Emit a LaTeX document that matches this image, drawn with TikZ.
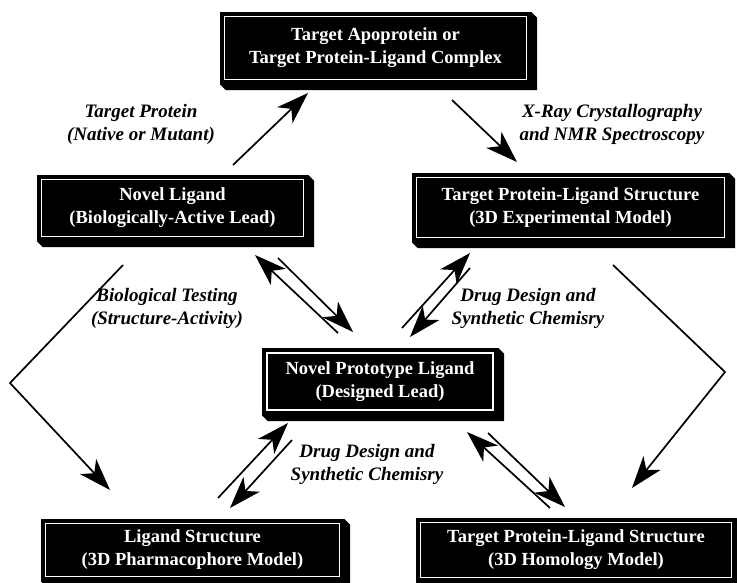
\documentclass[tikz,border=0pt]{standalone}
\usepackage{fontspec}
\setmainfont{Liberation Serif}
\usetikzlibrary{arrows.meta, calc}

\begin{document}
\begin{tikzpicture}[x=1pt, y=-1pt,
    slab/.style={rectangle, fill=black, text=white, align=center, inner sep=0pt, font=\bfseries\fontsize{18.5}{23}\selectfont,
        path picture={\draw[white, line width=1.3pt] ([shift={(4.5pt,-4.5pt)}]path picture bounding box.north west) rectangle ([shift={(-4.5pt,4.5pt)}]path picture bounding box.south east);}},
    keyslab/.style={slab,
        path picture={\draw[white, line width=2.6pt] ([shift={(5pt,-5pt)}]path picture bounding box.north west) rectangle ([shift={(-5pt,5pt)}]path picture bounding box.south east);}},
    lbl/.style={align=center, font=\bfseries\itshape\fontsize{19}{23}\selectfont},
    arr/.style={-{Stealth[length=32pt, width=22pt, inset=9pt]}, line width=1.7pt}
]
\useasboundingbox (0,0) rectangle (737,583);

% boxes
\node[slab, minimum width=311pt, minimum height=72pt] (apo) at (375.5,48) {Target Apoprotein or\\Target Protein-Ligand Complex};
\node[slab, minimum width=271pt, minimum height=66pt] (lead) at (172.5,208) {Novel Ligand\\(Biologically-Active Lead)};
\node[slab, minimum width=317pt, minimum height=69pt] (expt) at (570.5,207.5) {Target Protein-Ligand Structure\\(3D Experimental Model)};
\node[keyslab, minimum width=236pt, minimum height=67pt] (proto) at (380,381.5) {Novel Prototype Ligand\\(Designed Lead)};
\node[slab, minimum width=303pt, minimum height=62pt] (pharm) at (192.5,550) {Ligand Structure\\(3D Pharmacophore Model)};
\node[slab, minimum width=320pt, minimum height=64pt] (homol) at (576,550) {Target Protein-Ligand Structure\\(3D Homology Model)};

% extruded edges
\foreach \n in {apo,lead,expt,proto,pharm,homol}
    \fill (\n.north east) -- ++(6pt,-6pt) -- ([shift={(6pt,-6pt)}]\n.south east) -- ([shift={(6pt,-6pt)}]\n.south west) -- (\n.south west) -- (\n.south east) -- cycle;

% labels
\node[lbl] (protein) at (141,124) {Target Protein\\(Native or Mutant)};
\node[lbl] (xray) at (612,124) {X-Ray Crystallography\\and NMR Spectroscopy};
\node[lbl] (testing) at (167,308) {Biological Testing\\(Structure-Activity)};
\node[lbl] (designR) at (528,308) {Drug Design and\\Synthetic Chemisry};
\node[lbl] (designL) at (367,464) {Drug Design and\\Synthetic Chemisry};

% arrow ends
\coordinate (lead-up) at (233,165);
\coordinate (apo-in) at (308,93);
\coordinate (apo-out) at (452,100);
\coordinate (expt-in) at (517,162);
\coordinate (lead-dn) at (123,265);
\coordinate (bendW) at (10,383);
\coordinate (pharm-in) at (110,490);
\coordinate (expt-dn) at (613,265);
\coordinate (bendE) at (725,372);
\coordinate (homol-in) at (632,488);

\draw[arr] (lead-up) -- (apo-in);
\draw[arr] (apo-out) -- (expt-in);
\draw[arr] (lead-dn) -- (bendW) -- (pharm-in);
\draw[arr] (expt-dn) -- (bendE) -- (homol-in);

% paired arrows round the prototype
\draw[arr] (338,333) coordinate (pa1) -- (255,255) coordinate (pa2);
\draw[arr] (278,258) coordinate (pb1) -- (353,332) coordinate (pb2);
\draw[arr] (402,328) coordinate (pc1) -- (470,253) coordinate (pc2);
\draw[arr] (470,268) coordinate (pd1) -- (410,337) coordinate (pd2);
\draw[arr] (218,498) coordinate (pe1) -- (288,423) coordinate (pe2);
\draw[arr] (292,440) coordinate (pf1) -- (230,508) coordinate (pf2);
\draw[arr] (550,508) coordinate (pg1) -- (467,432) coordinate (pg2);
\draw[arr] (488,433) coordinate (ph1) -- (565,507) coordinate (ph2);
\end{tikzpicture}
\end{document}
